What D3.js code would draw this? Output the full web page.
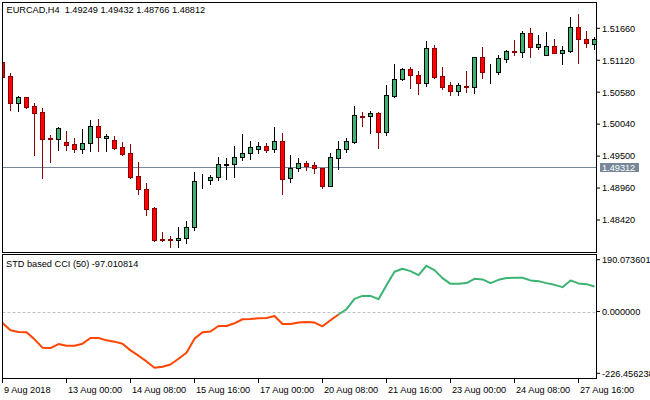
<!DOCTYPE html>
<html><head><meta charset="utf-8">
<script src="https://cdn.jsdelivr.net/npm/d3@7"></script>
<style>
body{margin:0;background:#fff}
svg{display:block}
text{font-family:'Liberation Sans',Arial,sans-serif;font-size:9.2px;fill:#000}
</style>
</head><body>
<svg id="c" width="650" height="400"></svg>
<script>
// ---- data ----
const openP = [1.51085,1.50859,1.50393,1.50494,1.50347,1.50245,1.49801,1.49794,1.49738,1.49700,
1.49625,1.49716,1.50004,1.49801,1.49767,1.49649,1.49548,1.49159,1.48939,1.48618,
1.48099,1.48094,1.48077,1.48111,1.48297,1.49071,1.49091,1.49142,1.49358,1.49362,
1.49480,1.49548,1.49625,1.49671,1.49615,1.49755,1.49125,1.49294,1.49384,1.49350,
1.49299,1.49000,1.49473,1.49615,1.49744,1.50186,1.50173,1.50224,1.49913,1.50524,
1.50798,1.50967,1.50866,1.50731,1.51322,1.50849,1.50697,1.50595,1.50690,1.50673,
1.51170,1.50918,1.50927,1.51146,1.51271,1.51254,1.51576,1.51339,1.51214,1.51356,
1.51248,1.51281,1.51677,1.51479,1.51400];
const highP = [1.51107,1.50905,1.50511,1.50507,1.50398,1.50313,1.49857,1.49992,1.49924,1.49806,
1.49958,1.50110,1.50127,1.49874,1.49835,1.49738,1.49700,1.49400,1.49046,1.48640,
1.48217,1.48150,1.48297,1.48403,1.49226,1.49193,1.49181,1.49485,1.49468,1.49671,
1.49874,1.49755,1.49733,1.49716,1.49987,1.49886,1.49519,1.49468,1.49417,1.49400,
1.49307,1.49553,1.49755,1.49806,1.50347,1.50245,1.50262,1.50251,1.50702,1.51057,
1.50989,1.51006,1.50933,1.51445,1.51378,1.51006,1.50752,1.50731,1.50938,1.51175,
1.51349,1.51052,1.51209,1.51293,1.51457,1.51609,1.51665,1.51547,1.51592,1.51474,
1.51361,1.51856,1.51902,1.51614,1.51508];
const lowP = [1.50837,1.50279,1.50262,1.50318,1.49519,1.49135,1.49400,1.49603,1.49608,1.49575,
1.49558,1.49591,1.49591,1.49591,1.49620,1.49524,1.49130,1.48860,1.48510,1.48070,
1.48070,1.47969,1.47969,1.48037,1.48251,1.48966,1.49024,1.49101,1.49118,1.49152,
1.49439,1.49456,1.49558,1.49575,1.49575,1.48860,1.49068,1.49243,1.49265,1.49215,
1.48966,1.48995,1.49287,1.49575,1.49722,1.50014,1.49896,1.49642,1.49862,1.50504,
1.50786,1.50656,1.50555,1.50690,1.50825,1.50629,1.50538,1.50538,1.50589,1.50572,
1.50825,1.50741,1.50893,1.51085,1.51204,1.51180,1.51180,1.51315,1.51204,1.51243,
1.51062,1.51260,1.51079,1.51344,1.51315];
const closeP = [1.50845,1.50403,1.50499,1.50335,1.50234,1.49794,1.49789,1.49975,1.49693,1.49625,
1.49716,1.50004,1.49818,1.49835,1.49642,1.49541,1.49147,1.48939,1.48611,1.48087,
1.48086,1.48077,1.48111,1.48302,1.49074,1.49074,1.49147,1.49362,1.49362,1.49485,
1.49553,1.49649,1.49666,1.49608,1.49755,1.49118,1.49294,1.49384,1.49338,1.49294,
1.49000,1.49480,1.49620,1.49755,1.50190,1.50169,1.50224,1.49913,1.50528,1.50798,
1.50967,1.50866,1.50731,1.51322,1.50842,1.50673,1.50595,1.50697,1.50676,1.51170,
1.50916,1.50921,1.51153,1.51271,1.51260,1.51576,1.51339,1.51390,1.51356,1.51248,
1.51288,1.51677,1.51474,1.51407,1.51474];
const cciValues = [-42.0,-68.8,-75.1,-76.2,-102.0,-132.5,-134.0,-119.2,-125.1,-125.1,
-117.8,-97.2,-97.2,-105.6,-110.4,-117.8,-142.4,-161.9,-182.9,-206.1,
-202.4,-194.0,-173.0,-150.9,-99.4,-76.2,-73.2,-53.0,-53.0,-43.1,
-28.3,-27.2,-24.7,-23.6,-16.2,-45.6,-45.6,-40.5,-38.3,-40.5,
-54.1,-32.0,-11.0,8.5,46.4,57.4,57.4,45.3,96.8,145.7,
156.8,148.3,133.6,167.8,152.0,122.6,101.6,101.6,104.2,120.0,
117.8,104.2,116.3,122.6,123.7,123.7,114.1,111.5,104.2,97.9,
89.4,114.1,103.1,100.5,92.0];
const timeTickIndex = [0,8,16,24,32,40,48,56,64,72];
const timeLabels = ["9 Aug 2018","13 Aug 00:00","14 Aug 08:00","15 Aug 16:00","17 Aug 00:00",
"20 Aug 08:00","21 Aug 16:00","23 Aug 00:00","24 Aug 08:00","27 Aug 16:00"];
const priceTicks = [1.51660,1.51120,1.50580,1.50040,1.49500,1.48960,1.48420];
const cciTicks = [190.073601, 0, -226.456238];
const cciTickLabels = ["190.073601","0.000000","-226.456238"];
const bidPrice = 1.49312;
const headerText = "EURCAD,H4\u00a0 1.49249 1.49432 1.48766 1.48812";
const cciTitle = "STD based CCI (50) -97.010814";
const splitIndex = 42;

// ---- layout ----
const L = 2.5, R = 596.5, mainTop = 2.5, mainBottom = 252.5, subTop = 254.5, subBottom = 378.5;
const svg = d3.select("#c");
const n = openP.length;
const x = d3.scaleLinear().domain([0, n - 1]).range([2.5, 2.5 + 8 * (n - 1)]);
const y = d3.scaleLinear().domain([1.4842, 1.5166]).range([220.0, 28.3]);
const yc = d3.scaleLinear().domain([-226.456238, 190.073601]).range([373.3, 259.7]);

const defs = svg.append("defs");
defs.append("clipPath").attr("id","clipMain").append("rect")
  .attr("x", L).attr("y", mainTop).attr("width", R - L).attr("height", mainBottom - mainTop);
defs.append("clipPath").attr("id","clipSub").append("rect")
  .attr("x", L).attr("y", subTop).attr("width", R - L).attr("height", subBottom - subTop);

// bid line
const gMain = svg.append("g").attr("clip-path","url(#clipMain)");
const by = Math.round(y(bidPrice)) + 0.5;
gMain.append("line").attr("x1", L).attr("x2", R).attr("y1", by).attr("y2", by)
  .attr("stroke", "#778899").attr("stroke-width", 1);

// candles
const idx = d3.range(n);
const bull = i => closeP[i] >= openP[i];
const cg = gMain.selectAll("g.candle").data(idx).join("g").attr("class","candle");
cg.append("line")
  .attr("x1", i => x(i)).attr("x2", i => x(i))
  .attr("y1", i => Math.round(y(highP[i]))).attr("y2", i => Math.round(y(lowP[i])) + 1)
  .attr("stroke", i => bull(i) ? "#000" : "#8B0000").attr("stroke-width", 1);
cg.append("rect")
  .attr("x", i => x(i) - 2).attr("width", 4)
  .attr("y", i => Math.round(y(Math.max(openP[i], closeP[i]))) + 0.5)
  .attr("height", i => Math.max(0, Math.round(y(Math.min(openP[i], closeP[i]))) - Math.round(y(Math.max(openP[i], closeP[i])))))
  .attr("fill", i => bull(i) ? "#3CB371" : "#FF0000")
  .attr("stroke", i => bull(i) ? "#000" : "#8B0000").attr("stroke-width", 1);

// indicator
const gSub = svg.append("g").attr("clip-path","url(#clipSub)");
const zy = Math.round(yc(0)) + 0.5;
gSub.append("line").attr("x1", L).attr("x2", R).attr("y1", zy).attr("y2", zy)
  .attr("stroke", "#C0C0C0").attr("stroke-dasharray", "3,2");
const line = d3.line().x(i => x(i)).y(i => yc(cciValues[i]));
gSub.append("path").attr("d", line(idx.slice(0, splitIndex + 1)))
  .attr("fill","none").attr("stroke","#FF4500").attr("stroke-width",2).attr("stroke-linejoin","round");
gSub.append("path").attr("d", line(idx.slice(splitIndex)))
  .attr("fill","none").attr("stroke","#3CB371").attr("stroke-width",2).attr("stroke-linejoin","round");

// frames
svg.append("rect").attr("x", L).attr("y", mainTop).attr("width", R - L).attr("height", mainBottom - mainTop)
  .attr("fill","none").attr("stroke","#000");
svg.append("rect").attr("x", L).attr("y", subTop).attr("width", R - L).attr("height", subBottom - subTop)
  .attr("fill","none").attr("stroke","#000");

// price axis
const pa = svg.append("g").attr("transform", `translate(${R + 0.5},-0.5)`)
  .call(d3.axisRight(y).tickValues(priceTicks).tickFormat(d3.format(".5f")).tickSize(3).tickPadding(2));
pa.select(".domain").remove();
pa.attr("font-family", null).attr("font-size", null);
pa.selectAll("text").attr("dy", "0.36em");

// bid label
svg.append("rect").attr("x", 600).attr("y", by - 4.5).attr("width", 39).attr("height", 9).attr("fill", "#778899");
svg.append("text").attr("x", 602).attr("y", by).attr("dy","0.36em").style("fill","#fff").text(d3.format(".5f")(bidPrice));

// cci axis
const ca = svg.append("g").attr("transform", `translate(${R + 0.5},-0.5)`)
  .call(d3.axisRight(yc).tickValues(cciTicks).tickFormat((d, i) => cciTickLabels[i]).tickSize(3).tickPadding(2));
ca.select(".domain").remove();
ca.attr("font-family", null).attr("font-size", null);
ca.selectAll("text").attr("dy", "0.36em");

// time axis
const ta = svg.append("g").attr("transform", `translate(-0.5,${subBottom + 0.5})`)
  .call(d3.axisBottom(x).tickValues(timeTickIndex).tickFormat((d, i) => timeLabels[i]).tickSize(4).tickPadding(2));
ta.select(".domain").remove();
ta.attr("font-family", null).attr("font-size", null);
ta.selectAll("text").attr("text-anchor","start").attr("x", 1.5).attr("y", 13.5).attr("dy", null);

// titles
svg.append("text").attr("x", 6.5).attr("y", 12.5).text(headerText);
svg.append("text").attr("x", 6).attr("y", 266.5).text(cciTitle);
</script>
</body></html>
